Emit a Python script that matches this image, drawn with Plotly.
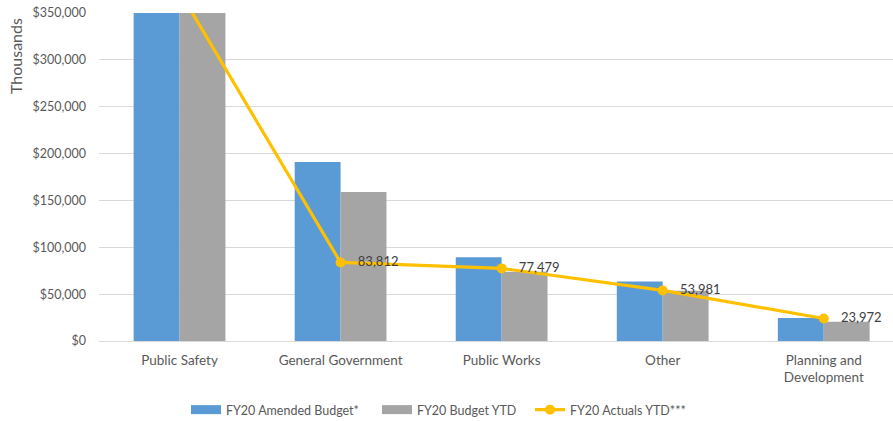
import plotly.graph_objects as go

categories = ["Public Safety", "General Government", "Public Works", "Other", "Planning and<br>Development"]
amended_budget = [440000, 191000, 89500, 63500, 24500]
budget_ytd = [385000, 159000, 74000, 53500, 20500]
actuals_ytd = [373000, 83812, 77479, 53981, 23972]
y_ticks = [0, 50000, 100000, 150000, 200000, 250000, 300000, 350000]

FONT = "Lato, 'Open Sans', sans-serif"
BLUE, GRAY, GOLD = "#5b9bd5", "#a5a5a5", "#ffc000"
W, H = 893, 421
ML, MT, MB = 99, 13, 80
PW, PH = W - ML, H - MT - MB


def px_x(px):
    return (px - ML) / PW


def px_y(py):
    return (H - MB - py) / PH


# value labels; the first point lies above the visible axis range
labels = ["" if v > y_ticks[-1] else f"   {v:,}" for v in actuals_ytd]

fig = go.Figure()
fig.add_trace(go.Bar(
    x=categories, y=amended_budget, name="FY20 Amended Budget*",
    marker=dict(color=BLUE, line=dict(width=0)), showlegend=False,
))
fig.add_trace(go.Bar(
    x=categories, y=budget_ytd, name="FY20 Budget YTD",
    marker=dict(color=GRAY, line=dict(width=0)), showlegend=False,
))
fig.add_trace(go.Scatter(
    x=categories, y=actuals_ytd, name="FY20 Actuals YTD***",
    mode="lines+markers+text",
    line=dict(color=GOLD, width=3.2),
    marker=dict(color=GOLD, size=10),
    text=labels,
    textposition="middle right",
    textfont=dict(family=FONT, size=13, color="#404040"),
    cliponaxis=True, showlegend=False,
))

# legend entries drawn as wide swatches, one legend box each
fig.add_trace(go.Scatter(x=[None], y=[None], mode="lines", name="FY20 Amended Budget*",
                         line=dict(color=BLUE, width=9), legend="legend"))
fig.add_trace(go.Scatter(x=[None], y=[None], mode="lines", name="FY20 Budget YTD",
                         line=dict(color=GRAY, width=9), legend="legend2"))
fig.add_trace(go.Scatter(x=[None], y=[None], mode="lines+markers", name="FY20 Actuals YTD***",
                         line=dict(color=GOLD, width=3.2), marker=dict(color=GOLD, size=10),
                         legend="legend3"))

legend_style = dict(
    orientation="h", xanchor="left", yanchor="middle", y=px_y(410),
    font=dict(family=FONT, size=12.5, color="#595959"),
    itemwidth=30, bgcolor="rgba(0,0,0,0)", borderwidth=0,
)

fig.update_layout(
    width=W, height=H,
    margin=dict(l=ML, r=0, t=MT, b=MB, autoexpand=False),
    paper_bgcolor="white", plot_bgcolor="white",
    barmode="group", bargap=0.43, bargroupgap=0,
    font=dict(family=FONT, size=13, color="#595959"),
    showlegend=True,
    legend=dict(legend_style, x=px_x(186)),
    legend2=dict(legend_style, x=px_x(377)),
    legend3=dict(legend_style, x=px_x(530)),
    xaxis=dict(
        range=[-0.5, 4.43], showgrid=False, showline=False, ticks="",
        automargin=False, ticklabelstandoff=9,
        tickfont=dict(family=FONT, size=13.5, color="#595959"),
    ),
    yaxis=dict(
        range=[0, 350000], tickvals=y_ticks,
        ticktext=[f"${v:,}" for v in y_ticks],
        showgrid=True, gridcolor="#d9d9d9", gridwidth=1,
        zeroline=True, zerolinecolor="#d9d9d9", zerolinewidth=1,
        showline=False, ticks="", ticklabelstandoff=12, automargin=False,
        tickfont=dict(family=FONT, size=12.5, color="#595959"),
    ),
    annotations=[dict(
        text="Thousands", textangle=-90, xref="paper", yref="paper",
        x=px_x(15), y=px_y(16), xanchor="center", yanchor="top", showarrow=False,
        font=dict(family=FONT, size=16, color="#595959"),
    )],
)

fig.write_html("out.html")
